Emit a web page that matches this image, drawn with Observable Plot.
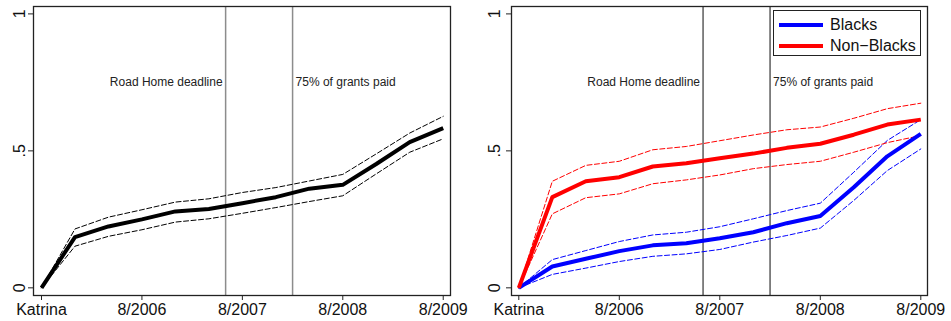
<!DOCTYPE html>
<html>
<head>
<meta charset="utf-8">
<script src="https://cdn.jsdelivr.net/npm/d3@7"></script>
<script src="https://cdn.jsdelivr.net/npm/@observablehq/plot@0.6"></script>
<style>
  body { margin: 0; background: #fff; }
  #wrap { position: relative; width: 951px; height: 321px; display: flex; font-family: "Liberation Sans", Arial, sans-serif; }
  #wrap svg { display: block; }
  #legend { position: absolute; left: 773px; top: 10px; width: 148px; height: 46px; border: 1.3px solid #222; background: #fff; box-sizing: border-box; }
  .lg-row { position: absolute; left: 0; height: 20px; display: flex; align-items: center; }
  .lg-sw { width: 44px; height: 4px; margin-left: 5px; margin-right: 7px; }
  .lg-tx { font-size: 16px; color: #111; }
</style>
</head>
<body>
<div id="wrap"></div>
<script>
// Months since Katrina (8/2005), one observation every 4 months
const months = [0, 4, 8, 12, 16, 20, 24, 28, 32, 36, 40, 44, 48];

// Left panel: all households
const allMain = [0, 0.185, 0.224, 0.250, 0.279, 0.288, 0.309, 0.331, 0.362, 0.376, 0.452, 0.532, 0.583];
const allHi   = [0, 0.215, 0.258, 0.285, 0.313, 0.325, 0.348, 0.366, 0.390, 0.414, 0.489, 0.565, 0.626];
const allLo   = [0, 0.152, 0.188, 0.212, 0.240, 0.252, 0.272, 0.293, 0.315, 0.336, 0.416, 0.495, 0.544];

// Right panel: Blacks
const blackMain = [0, 0.078, 0.106, 0.134, 0.155, 0.163, 0.181, 0.203, 0.236, 0.262, 0.367, 0.480, 0.562];
const blackHi   = [0, 0.103, 0.136, 0.169, 0.193, 0.203, 0.223, 0.252, 0.282, 0.309, 0.422, 0.538, 0.614];
const blackLo   = [0, 0.049, 0.072, 0.096, 0.115, 0.124, 0.140, 0.167, 0.191, 0.218, 0.319, 0.428, 0.507];

// Right panel: Non-Blacks
const nonBlackMain = [0, 0.331, 0.389, 0.404, 0.443, 0.455, 0.473, 0.490, 0.511, 0.526, 0.559, 0.596, 0.614];
const nonBlackHi   = [0, 0.389, 0.447, 0.462, 0.504, 0.516, 0.537, 0.558, 0.577, 0.587, 0.619, 0.654, 0.674];
const nonBlackLo   = [0, 0.270, 0.329, 0.343, 0.380, 0.394, 0.412, 0.435, 0.450, 0.462, 0.495, 0.530, 0.556];

// Axes
const xTickMonths = [0, 12, 24, 36, 48];
const xTickLabels = ["Katrina", "8/2006", "8/2007", "8/2008", "8/2009"];
const yTicks = [0, 0.5, 1];
const yTickLabels = ["0", ".5", "1"];

// Events (months since Katrina)
const eventMonths = [22, 30];
const eventLabels = ["Road Home deadline", "75% of grants paid"];
const eventY = 0.75;

const legendNames = ["Blacks", "Non\u2212Blacks"];
const legendColors = ["#0000ff", "#ff0000"];

const FONT = '"Liberation Sans", Arial, sans-serif';

function rows(arr) { return months.map((m, i) => ({ m, v: arr[i] })); }

function ciLine(arr, color) {
  return Plot.line(rows(arr), { x: "m", y: "v", stroke: color, strokeWidth: 1, strokeDasharray: "5,2.5" });
}
function mainLine(arr, color) {
  return Plot.line(rows(arr), { x: "m", y: "v", stroke: color, strokeWidth: 4, strokeLinejoin: "round", strokeLinecap: "butt" });
}

function panel({ width, marginLeft, marginRight, xDomain, ruleColor, ruleWidth, yLabelDx, series }) {
  const marks = [
    Plot.ruleX(eventMonths, { x: d => d, stroke: ruleColor, strokeWidth: ruleWidth }),
    Plot.text([eventMonths[0]], { x: d => d, y: () => eventY, text: () => eventLabels[0], textAnchor: "end", dx: -3, fontSize: 12, fill: "#222" }),
    Plot.text([eventMonths[1]], { x: d => d, y: () => eventY, text: () => eventLabels[1], textAnchor: "start", dx: 3, fontSize: 12, fill: "#222" }),
    ...series,
    Plot.frame({ stroke: "#222", strokeWidth: 1.3 }),
    Plot.axisX({ ticks: xTickMonths, tickFormat: d => xTickLabels[xTickMonths.indexOf(d)], tickSize: 5, tickPadding: 3, fontSize: 16, stroke: "#222", fill: "#111", label: null }),
    Plot.axisY({ ticks: yTicks, tickFormat: () => "", tickSize: 5, stroke: "#222", label: null }),
    Plot.text(yTicks, { y: d => d, text: (d, i) => yTickLabels[i], frameAnchor: "left", dx: yLabelDx, rotate: -90, textAnchor: "middle", lineAnchor: "middle", fontSize: 16, fill: "#111" })
  ];
  return Plot.plot({
    width, height: 321,
    marginLeft, marginRight, marginTop: 6, marginBottom: 26,
    style: { fontFamily: FONT, background: "#fff", overflow: "visible" },
    x: { type: "linear", domain: xDomain, axis: null, label: null },
    y: { type: "linear", domain: [-0.028, 1.027], axis: null, label: null },
    marks
  });
}

const wrap = document.getElementById("wrap");

wrap.appendChild(panel({
  width: 475, marginLeft: 33, marginRight: 25,
  xDomain: [-0.956, 48.87],
  ruleColor: "#8c8c8c", ruleWidth: 1.5, yLabelDx: -13.5,
  series: [ciLine(allHi, "#000"), ciLine(allLo, "#000"), mainLine(allMain, "#000")]
}));

wrap.appendChild(panel({
  width: 476, marginLeft: 36, marginRight: 24,
  xDomain: [-0.872, 48.8],
  ruleColor: "#333", ruleWidth: 1.2, yLabelDx: -16.5,
  series: [
    ciLine(blackHi, "#0000ff"), ciLine(blackLo, "#0000ff"),
    ciLine(nonBlackHi, "#ff0000"), ciLine(nonBlackLo, "#ff0000"),
    mainLine(blackMain, "#0000ff"), mainLine(nonBlackMain, "#ff0000")
  ]
}));

// Legend
const lg = document.createElement("div");
lg.id = "legend";
legendNames.forEach((name, i) => {
  const r = document.createElement("div");
  r.className = "lg-row";
  r.style.top = (4 + i * 21) + "px";
  const sw = document.createElement("div");
  sw.className = "lg-sw";
  sw.style.background = legendColors[i];
  const tx = document.createElement("span");
  tx.className = "lg-tx";
  tx.textContent = name;
  r.appendChild(sw); r.appendChild(tx);
  lg.appendChild(r);
});
wrap.appendChild(lg);
</script>
</body>
</html>
